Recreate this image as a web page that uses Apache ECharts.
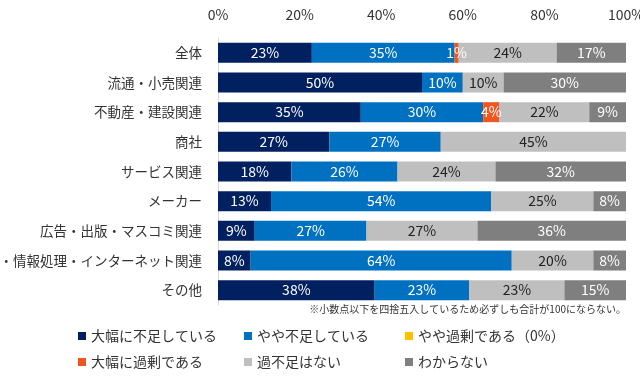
<!DOCTYPE html>
<html><head><meta charset="utf-8">
<script src="https://cdn.jsdelivr.net/npm/echarts@6/dist/echarts.min.js"></script>
<style>html,body{margin:0;padding:0;background:#fff}#c{width:640px;height:381px}</style>
</head><body><div id="c"></div>
<script>
const categories = ['全体','流通・小売関連','不動産・建設関連','商社','サービス関連','メーカー','広告・出版・マスコミ関連','IT・情報処理・インターネット関連','その他'];
const seriesNames = ['大幅に不足している','やや不足している','やや過剰である（0%）','大幅に過剰である','過不足はない','わからない'];
const severeShortage = [23, 50, 35, 27.3, 18, 13, 9.0, 8, 38.4];
const slightShortage = [35, 10, 30, 27.3, 26, 54, 27.4, 64, 23.2];
const slightSurplus  = [0, 0, 0, 0, 0, 0, 0, 0, 0];
const severeSurplus  = [1, 0, 4, 0, 0, 0, 0, 0, 0];
const balanced       = [24, 10, 22, 45.4, 24, 25, 27.2, 20, 23.3];
const unknown        = [17, 30, 9, 0, 32, 8, 36.4, 8, 15.1];
const xTicks = [0, 20, 40, 60, 80, 100];
const footnote = '※小数点以下を四捨五入しているため必ずしも合計が100にならない。';

const seriesData = [severeShortage, slightShortage, slightSurplus, severeSurplus, balanced, unknown];
const colors = ['#002060','#0070C0','#FFC000','#F0561F','#BFBFBF','#7F7F7F'];
const labelColors = ['#fff','#fff','#fff','#fff','#222','#fff'];
const FONT = '"Noto Sans CJK JP", sans-serif';

const chart = echarts.init(document.getElementById('c'));
const legendPos = [[78,329],[244,329],[405,329],[78,355],[244,355],[405,355]];
const option = {
  animation: false,
  grid: {left: 218, right: 14, top: 38, bottom: 76, containLabel: false, outerBoundsMode: 'none'},
  xAxis: {
    type: 'value', position: 'top', min: xTicks[0], max: xTicks[xTicks.length-1], interval: 20,
    axisLine: {show: false}, axisTick: {show: false}, splitLine: {show: false},
    axisLabel: {formatter: '{value}%', fontSize: 14, color: '#333', margin: 16, fontFamily: FONT}
  },
  yAxis: {
    type: 'category', data: categories, inverse: true,
    axisLine: {show: true, lineStyle: {color: '#D9D9D9'}}, axisTick: {show: false},
    axisLabel: {fontSize: 13.5, color: '#333', margin: 16, fontFamily: FONT}
  },
  legend: seriesNames.map((n, i) => ({
    data: [n], left: legendPos[i][0], top: legendPos[i][1], padding: 0,
    itemWidth: 8, itemHeight: 8, icon: 'rect', selectedMode: false,
    textStyle: {fontSize: 14, color: '#333', fontFamily: FONT}
  })),
  graphic: [{
    type: 'text', right: 14, top: 304,
    style: {text: footnote, fontSize: 10, fill: '#333', fontFamily: FONT}
  }],
  series: seriesNames.map((n, i) => ({
    name: n, type: 'bar', stack: 'total', barWidth: 20,
    itemStyle: {color: colors[i]},
    data: seriesData[i],
    label: {
      show: true, position: 'inside', fontSize: 14, color: labelColors[i], fontFamily: FONT,
      formatter: p => p.value > 0 ? Math.round(p.value) + '%' : ''
    }
  }))
};
chart.setOption(option);
</script></body></html>
